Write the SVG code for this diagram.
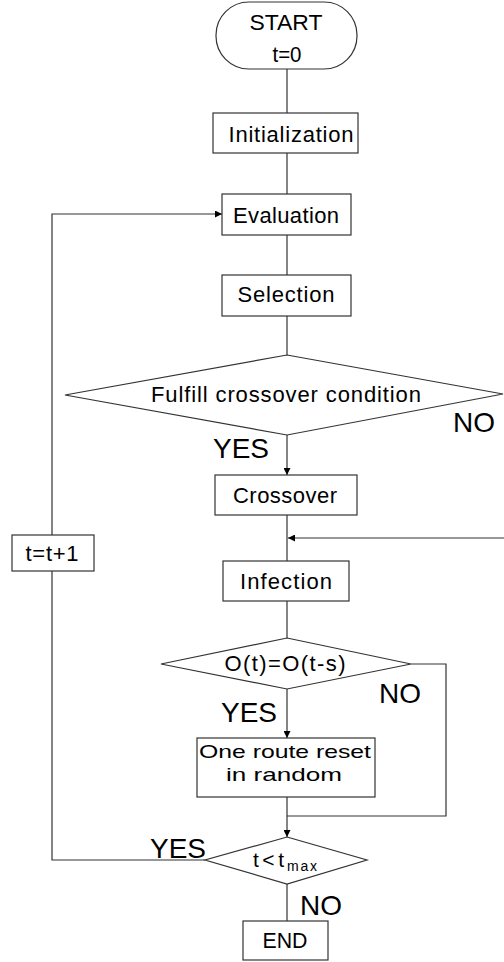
<svg xmlns="http://www.w3.org/2000/svg" width="504" height="962" viewBox="0 0 504 962">
<style>
.s{fill:#fff;stroke:#333;stroke-width:1.2}
.l{fill:none;stroke:#333;stroke-width:1.2}
.t{font-family:"Liberation Sans",Arial,sans-serif;font-size:22px;fill:#000;text-anchor:middle}
.r{font-size:19px}
.yn{font-family:"Liberation Sans",Arial,sans-serif;font-size:28px;fill:#000}
</style>
<defs>
<marker id="a" viewBox="0 0 10 10" refX="10" refY="5" markerWidth="7" markerHeight="7" markerUnits="userSpaceOnUse" orient="auto">
<path d="M0,0 L10,5 L0,10 z" fill="#000"/>
</marker>
</defs>
<rect width="504" height="962" fill="#fff"/>
<g id="connectors">
<line class="l" x1="287" y1="69" x2="287" y2="113"/>
<line class="l" x1="287" y1="153" x2="287" y2="194"/>
<line class="l" x1="287" y1="235" x2="287" y2="275"/>
<line class="l" x1="287" y1="316" x2="287" y2="355"/>
<line class="l" x1="287" y1="435" x2="287" y2="475" marker-end="url(#a)"/>
<line class="l" x1="287" y1="515" x2="287" y2="561"/>
<line class="l" x1="504" y1="538" x2="288" y2="538" marker-end="url(#a)"/>
<line class="l" x1="287" y1="601" x2="287" y2="638"/>
<line class="l" x1="287" y1="689" x2="287" y2="738" marker-end="url(#a)"/>
<polyline class="l" points="411,664 446,664 446,816 287,816"/>
<line class="l" x1="287" y1="797" x2="287" y2="837" marker-end="url(#a)"/>
<polyline class="l" points="205,860 52,860 52,571"/>
<polyline class="l" points="52,535 52,214 222,214" marker-end="url(#a)"/>
<line class="l" x1="287" y1="884" x2="287" y2="921"/>
</g>
<g id="start">
<rect class="s" x="216" y="2" width="141" height="67" rx="33" ry="33"/>
<text class="t" x="286" y="30" textLength="73" lengthAdjust="spacingAndGlyphs">START</text>
<text class="t" x="287" y="62" textLength="29" lengthAdjust="spacingAndGlyphs">t=0</text>
</g>
<g id="init">
<rect class="s" x="213" y="113" width="145" height="40"/>
<text class="t" x="291" y="142" textLength="125" lengthAdjust="spacing">Initialization</text>
</g>
<g id="eval">
<rect class="s" x="222" y="194" width="129" height="41"/>
<text class="t" x="286" y="223" textLength="106" lengthAdjust="spacing">Evaluation</text>
</g>
<g id="select">
<rect class="s" x="222" y="275" width="129" height="41"/>
<text class="t" x="286" y="302" textLength="97" lengthAdjust="spacing">Selection</text>
</g>
<g id="cond1">
<polygon class="s" points="287,355 503,394 287,435 65,395"/>
<text class="t" x="286" y="402" textLength="270" lengthAdjust="spacing">Fulfill crossover condition</text>
<text class="yn" x="453" y="432">NO</text>
<text class="yn" x="213" y="458">YES</text>
</g>
<g id="crossover">
<rect class="s" x="215" y="475" width="142" height="40"/>
<text class="t" x="285" y="503" textLength="104" lengthAdjust="spacing">Crossover</text>
</g>
<g id="tinc">
<rect class="s" x="12" y="535" width="82" height="36"/>
<text class="t" x="52" y="561" textLength="53" lengthAdjust="spacing">t=t+1</text>
</g>
<g id="infection">
<rect class="s" x="223" y="561" width="126" height="40"/>
<text class="t" x="286" y="589" textLength="92" lengthAdjust="spacing">Infection</text>
</g>
<g id="cond2">
<polygon class="s" points="287,638 411,664 287,689 161,664"/>
<text class="t" x="285" y="671" textLength="121" lengthAdjust="spacing">O(t)=O(t-s)</text>
<text class="yn" x="379" y="703">NO</text>
<text class="yn" x="221" y="722">YES</text>
</g>
<g id="reset">
<rect class="s" x="197" y="738" width="178" height="59"/>
<text class="t r" x="285" y="758" textLength="172" lengthAdjust="spacingAndGlyphs">One route reset</text>
<text class="t r" x="284" y="781" textLength="116" lengthAdjust="spacingAndGlyphs">in random</text>
</g>
<g id="cond3">
<polygon class="s" points="287,837 367,860 287,884 205,860"/>
<text style="font-family:'Liberation Sans',Arial,sans-serif;font-size:21px" x="253" y="867" textLength="31" lengthAdjust="spacing">t&lt;t</text>
<text style="font-family:'Liberation Sans',Arial,sans-serif;font-size:14px" x="287" y="871" textLength="30" lengthAdjust="spacing">max</text>
<text class="yn" x="150" y="858">YES</text>
<text class="yn" x="300" y="915">NO</text>
</g>
<g id="end">
<rect class="s" x="243" y="921" width="85" height="39"/>
<text class="t" x="285" y="948" textLength="45" lengthAdjust="spacingAndGlyphs">END</text>
</g>
</svg>
